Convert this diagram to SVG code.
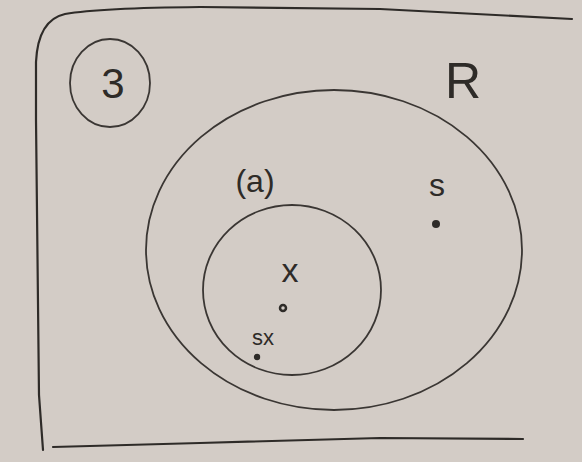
<svg xmlns="http://www.w3.org/2000/svg" width="582" height="462" viewBox="0 0 582 462">
<style>
.ink{fill:none;stroke:#2e2b28;stroke-width:2.2;stroke-linecap:round;stroke-linejoin:round}
.thin{fill:none;stroke:#3a3633;stroke-width:1.8}
.t{font-family:"Liberation Sans",Arial,sans-serif;fill:#2e2b28}
.dot{fill:#2e2b28}
</style>
<rect width="582" height="462" fill="#d3ccc6"/>
<g id="frame">
<path class="ink" d="M43,450 L39,395 L36,120 L36,62 Q38,20 65,14 Q100,8 200,7 L380,9 L572,19"/>
<path class="ink" d="M53,447 L200,443 L380,438 L523,439"/>
</g>
<g id="label-3">
<ellipse class="thin" cx="110" cy="83" rx="40" ry="44"/>
<text class="t" x="113" y="98" font-size="42" text-anchor="middle">3</text>
</g>
<g id="label-R">
<text class="t" x="463" y="98" font-size="50" text-anchor="middle">R</text>
</g>
<g id="outer">
<ellipse class="thin" cx="334" cy="250" rx="188" ry="160"/>
<text class="t" x="255" y="192" font-size="32" text-anchor="middle">(a)</text>
</g>
<g id="point-s">
<text class="t" x="437" y="196" font-size="32" text-anchor="middle">s</text>
<circle class="dot" cx="436" cy="224" r="4"/>
</g>
<g id="inner">
<ellipse class="thin" cx="292" cy="290" rx="89" ry="85"/>
<text class="t" x="290" y="282" font-size="34" text-anchor="middle">x</text>
<circle cx="283" cy="308" r="3" fill="none" stroke="#2e2b28" stroke-width="2.5"/>
</g>
<g id="point-sx">
<text class="t" x="263" y="345" font-size="22" text-anchor="middle">sx</text>
<circle class="dot" cx="257" cy="357" r="3.2"/>
</g>
</svg>
